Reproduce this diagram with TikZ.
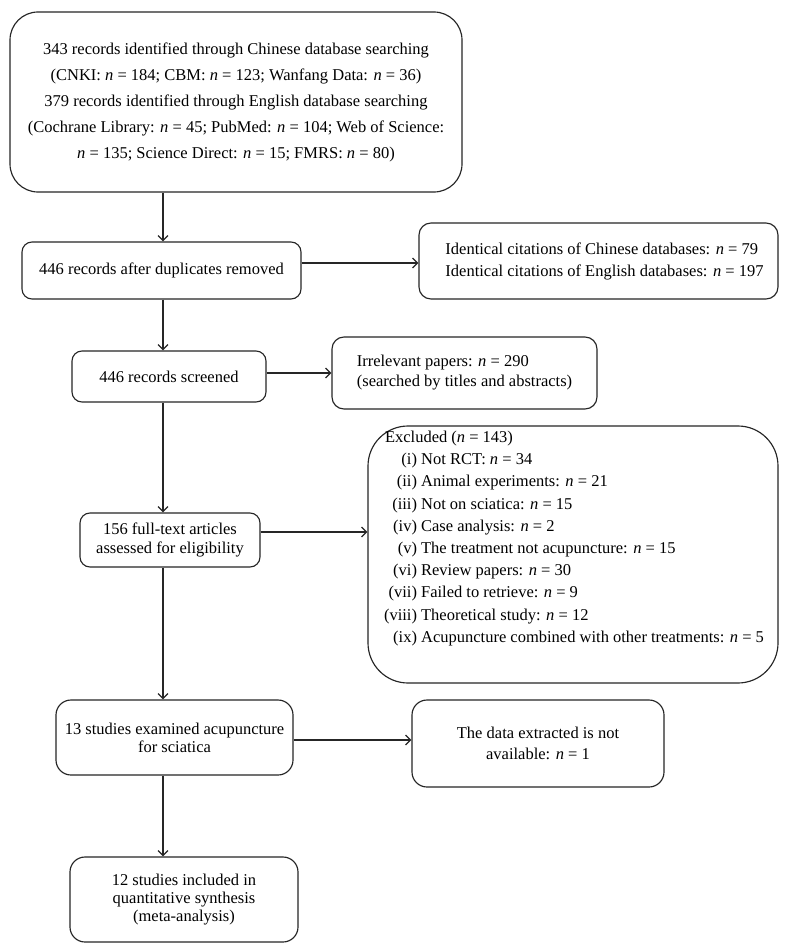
\documentclass[tikz,border=0pt]{standalone}
\usepackage{fontspec}
\setmainfont{Liberation Serif}
\usetikzlibrary{arrows.meta}
\newcommand\fsz[1]{\fontsize{16.5}{#1}\selectfont}
\newcommand\nn{\textit{n}}
\begin{document}
\begin{tikzpicture}[x=1pt,y=-1pt,
  box/.style={draw=black!85, line width=1.15pt, rounded corners=#1, inner sep=0pt, align=center},
  box/.default=10pt,
  arr/.style={draw=black!85, line width=1.2pt, -{Straight Barb[length=5pt,width=10pt]}},
  lab/.style={inner sep=0pt, outer sep=0pt}
]
\useasboundingbox[fill=white] (0,0) rectangle (789,952);
\coordinate (spine) at (163,0);

\node[box=28pt, minimum width=452pt, minimum height=180pt, font=\fsz{26}] (B1) at (236,102)
 {343 records identified through Chinese database searching\\
  (CNKI: \nn{} = 184; CBM: \nn{} = 123; Wanfang Data: \nn{} = 36)\\
  379 records identified through English database searching\\
  (Cochrane Library: \nn{} = 45; PubMed: \nn{} = 104; Web of Science:\\
  \nn{} = 135; Science Direct: \nn{} = 15; FMRS: \nn{} = 80)};

\node[box, minimum width=279pt, minimum height=57pt, font=\fsz{20}] (B2) at (161.5,270.5)
 {446 records after duplicates removed};

\node[box=12pt, minimum width=359pt, minimum height=76pt, font=\fsz{22}, align=left] (B3) at (598.5,261)
 {\hspace*{12pt}Identical citations of Chinese databases: \nn{} = 79\\
  \hspace*{12pt}Identical citations of English databases: \nn{} = 197};

\node[box, minimum width=194pt, minimum height=51pt, font=\fsz{20}] (B4) at (169,376.5)
 {446 records screened};

\node[box=12pt, minimum width=265pt, minimum height=72pt, font=\fsz{20}, align=left] (B5) at (464.5,373)
 {Irrelevant papers: \nn{} = 290\\
  (searched by titles and abstracts)};

\node[box, minimum width=180pt, minimum height=54pt, font=\fsz{18.5}] (B6) at (170,540)
 {156 full-text articles\\ assessed for eligibility};

\node[box=40pt, minimum width=410pt, minimum height=257pt] (B7) at (573,554.5) {};
\node[lab, anchor=north west, font=\fsz{22.2}, align=left] (B7t) at (385,431)
 {Excluded (\nn{} = 143)\\
  \makebox[32pt][r]{(i)} Not RCT: \nn{} = 34\\
  \makebox[32pt][r]{(ii)} Animal experiments: \nn{} = 21\\
  \makebox[32pt][r]{(iii)} Not on sciatica: \nn{} = 15\\
  \makebox[32pt][r]{(iv)} Case analysis: \nn{} = 2\\
  \makebox[32pt][r]{(v)} The treatment not acupuncture: \nn{} = 15\\
  \makebox[32pt][r]{(vi)} Review papers: \nn{} = 30\\
  \makebox[32pt][r]{(vii)} Failed to retrieve: \nn{} = 9\\
  \makebox[32pt][r]{(viii)} Theoretical study: \nn{} = 12\\
  \makebox[32pt][r]{(ix)} Acupuncture combined with other treatments: \nn{} = 5};

\node[box=15pt, minimum width=237pt, minimum height=75pt, font=\fsz{18}] (B8) at (174.5,737.5)
 {13 studies examined acupuncture\\ for sciatica};

\node[box=15pt, minimum width=252pt, minimum height=87pt, font=\fsz{21}] (B9) at (538,743.5)
 {The data extracted is not\\ available: \nn{} = 1};

\node[box=15pt, minimum width=228pt, minimum height=85pt, font=\fsz{18}] (B10) at (184,899.5)
 {12 studies included in\\ quantitative synthesis\\ (meta-analysis)};

% vertical spine
\draw[arr] (B1.south -| spine) -- (B2.north -| spine);
\draw[arr] (B2.south -| spine) -- (B4.north -| spine);
\draw[arr] (B4.south -| spine) -- (B6.north -| spine);
\draw[arr] (B6.south -| spine) -- (B8.north -| spine);
\draw[arr] (B8.south -| spine) -- (B10.north -| spine);

% side arrows
\draw[arr] ([yshift=7.5pt]B2.east) -- ([yshift=7.5pt]B2.east -| B3.west);
\draw[arr] ([yshift=3.5pt]B4.east) -- ([yshift=3.5pt]B4.east -| B5.west);
\draw[arr] ([yshift=8pt]B6.east) -- ([yshift=8pt]B6.east -| B7.west);
\draw[arr] ([yshift=-2.5pt]B8.east) -- ([yshift=-2.5pt]B8.east -| B9.west);
\end{tikzpicture}
\end{document}
